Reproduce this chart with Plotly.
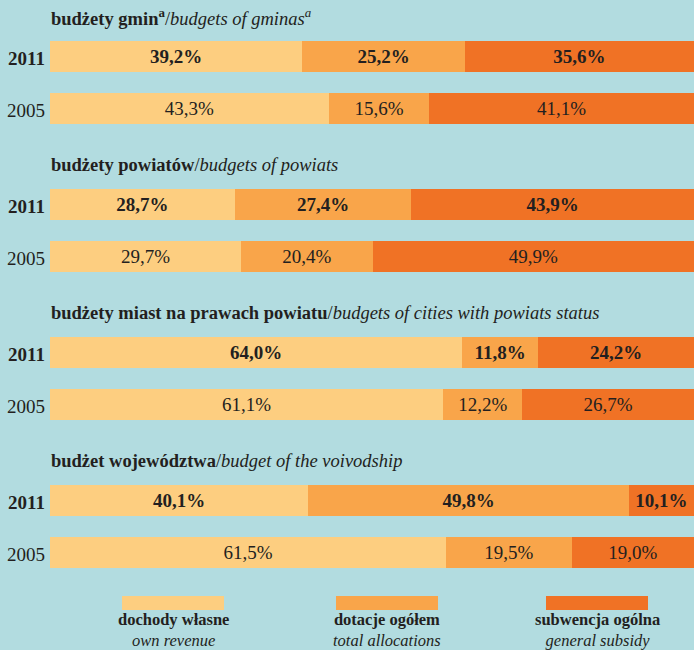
import plotly.graph_objects as go

W, H = 694, 650

# data
groups = [
    "<b>budżety gmin<sup>a</sup></b>/<i>budgets of gminas<sup>a</sup></i>",
    "<b>budżety powiatów</b>/<i>budgets of powiats</i>",
    "<b>budżety miast na prawach powiatu</b>/<i>budgets of cities with powiats status</i>",
    "<b>budżet województwa</b>/<i>budget of the voivodship</i>",
]
years = ["2011", "2005"]

own_revenue = [39.2, 43.3, 28.7, 29.7, 64.0, 61.1, 40.1, 61.5]
total_allocations = [25.2, 15.6, 27.4, 20.4, 11.8, 12.2, 49.8, 19.5]
general_subsidy = [35.6, 41.1, 43.9, 49.9, 24.2, 26.7, 10.1, 19.0]

legend_pl = ["dochody własne", "dotacje ogółem", "subwencja ogólna"]
legend_en = ["own revenue", "total allocations", "general subsidy"]

colors = ["#FDCE80", "#F9A54A", "#F07225"]
ink = "#231F20"
bg = "#B2DCE0"
FONT = "Liberation Serif"

# layout of rows (pixel units on the y axis)
pitch = 148
first = 56
gap = 52
bar_h = 31

ypos, yearlab = [], []
for g in range(len(groups)):
    for k, yr in enumerate(years):
        ypos.append(first + g * pitch + k * gap)
        yearlab.append(yr)


def fmt(v, yr):
    s = f"{v:.1f}".replace(".", ",") + "%"
    return f"<b>{s}</b>" if yr == "2011" else s


fig = go.Figure()
for vals, name, c in zip([own_revenue, total_allocations, general_subsidy], legend_pl, colors):
    fig.add_trace(go.Bar(
        x=vals, y=ypos, orientation="h", width=bar_h,
        marker=dict(color=c, line=dict(width=0)),
        text=[fmt(v, yr) for v, yr in zip(vals, yearlab)],
        textposition="inside", insidetextanchor="middle",
        constraintext="none",
        textfont=dict(family=FONT, size=19, color=ink),
        name=name, showlegend=False, hoverinfo="skip",
    ))

ann = []
for g, t in enumerate(groups):
    ann.append(dict(x=49 / W, y=first + g * pitch - 39, xref="paper", yref="y",
                    text=t, showarrow=False, xanchor="left", yanchor="middle",
                    font=dict(family=FONT, size=18.5, color=ink)))
for y, yr in zip(ypos, yearlab):
    ann.append(dict(x=47 / W, y=y + 2, xref="paper", yref="y",
                    text=f"<b>{yr}</b>" if yr == "2011" else yr,
                    showarrow=False, xanchor="right", yanchor="middle",
                    font=dict(family=FONT, size=19, color=ink)))

# legend: swatch above a bold Polish and an italic English label
shapes = []
centers = [173, 387, 597]
for cx, c, pl, en in zip(centers, colors, legend_pl, legend_en):
    shapes.append(dict(type="rect", xref="paper", yref="y",
                       x0=(cx - 51) / W, x1=(cx + 51) / W, y0=596, y1=610,
                       fillcolor=c, line=dict(width=0), layer="above"))
    ann.append(dict(x=cx / W, y=630, xref="paper", yref="y",
                    text=f"<b>{pl}</b><br><i>{en}</i>",
                    showarrow=False, xanchor="center", yanchor="middle",
                    align="center",
                    font=dict(family=FONT, size=16.5, color=ink)))

fig.update_layout(
    width=W, height=H, barmode="stack",
    margin=dict(l=0, r=0, t=0, b=0),
    paper_bgcolor=bg, plot_bgcolor=bg,
    xaxis=dict(domain=[50 / W, 1], range=[0, 100], visible=False, fixedrange=True),
    yaxis=dict(range=[H, 0], visible=False, fixedrange=True),
    annotations=ann, shapes=shapes,
)

fig.write_html("out.html", config={"displayModeBar": False},
               post_script="document.body.style.margin='0';")
